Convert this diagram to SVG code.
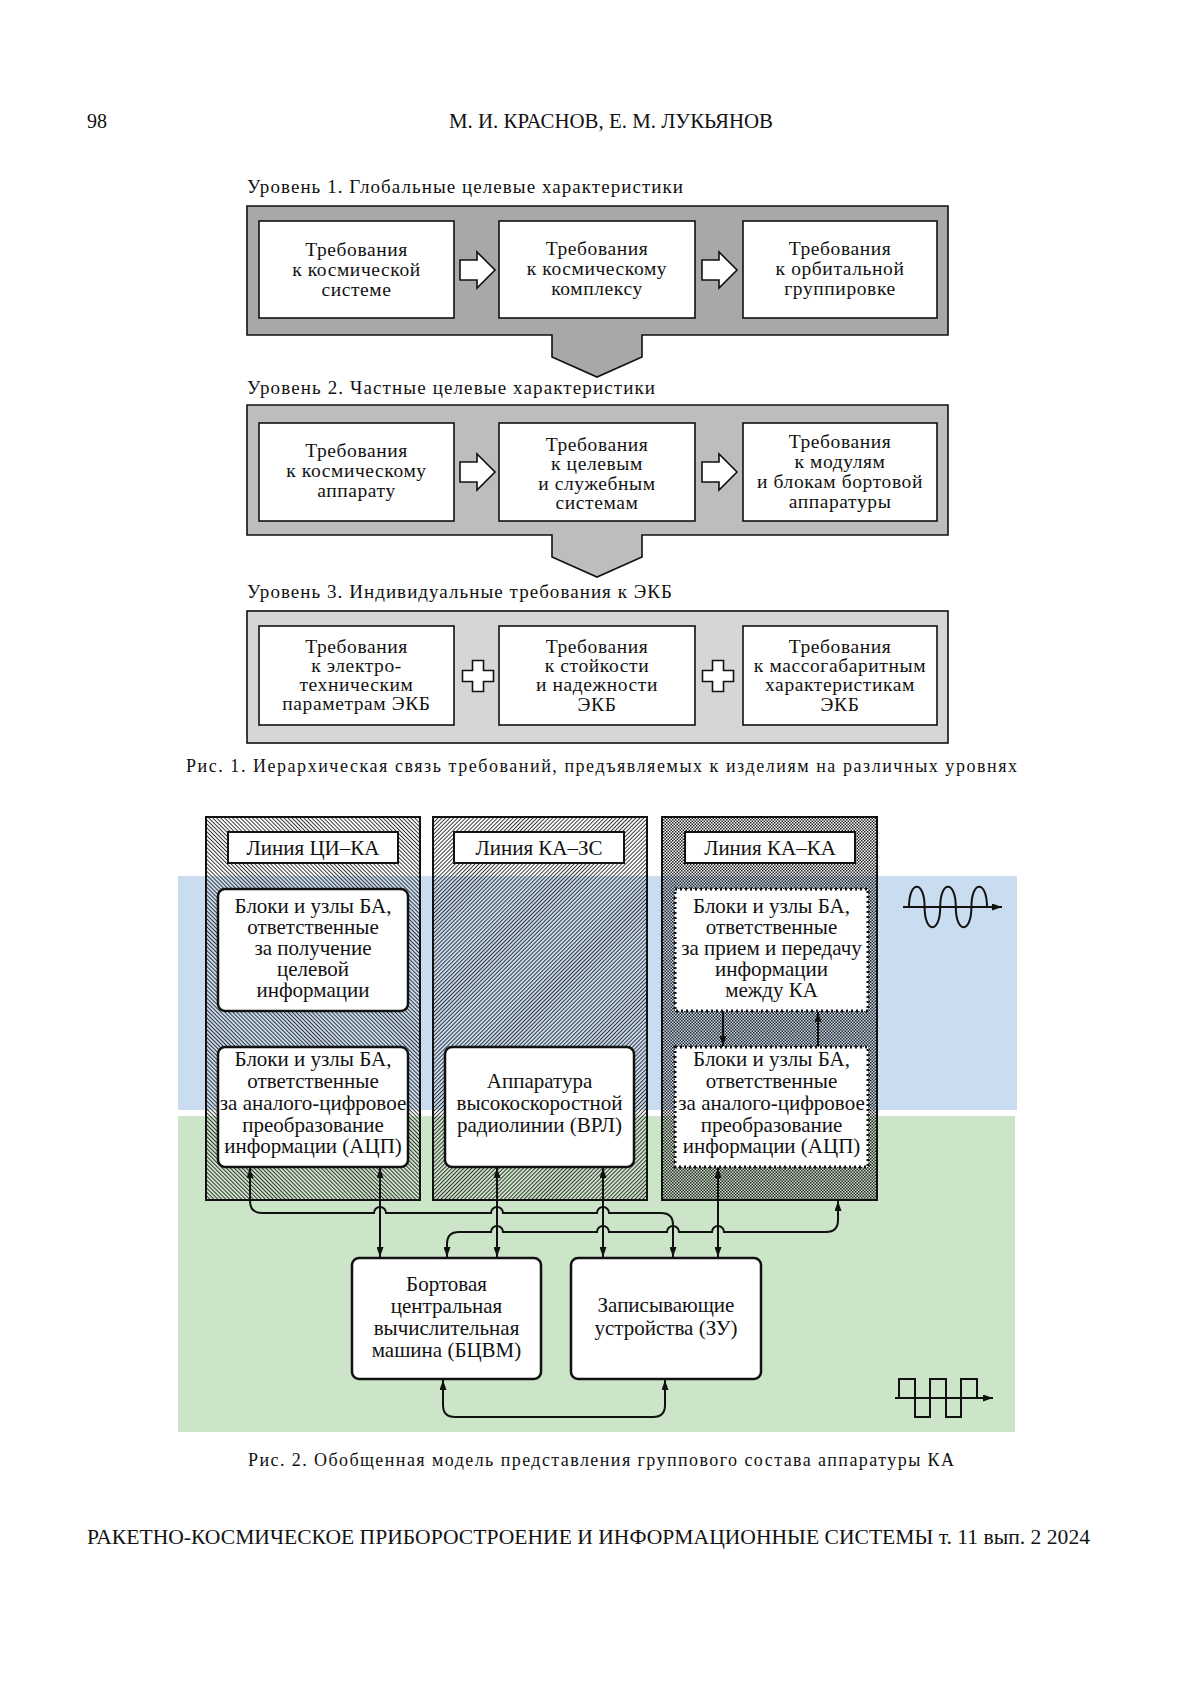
<svg xmlns="http://www.w3.org/2000/svg" width="1200" height="1697" viewBox="0 0 1200 1697">
<defs>
<style>
.t{font-family:"Liberation Serif","DejaVu Serif",serif;fill:#111}
.f1{font-size:19.5px;text-anchor:middle;letter-spacing:0.6px}
.f2{font-size:21px;text-anchor:middle}
.wb{fill:#fff;stroke:#111;stroke-width:1.6}
.lb{fill:#fff;stroke:#111;stroke-width:2}
.nb{fill:#fff;stroke:#111;stroke-width:2.5}
.db{fill:#fff;stroke:#111;stroke-width:3;stroke-dasharray:2 3}
.col{stroke:#111;stroke-width:2}
.cn{fill:none;stroke:#111;stroke-width:2}
.blk{fill:#fff;stroke:#111;stroke-width:1.6}
</style>
<pattern id="hBack" width="2.8" height="2.8" patternUnits="userSpaceOnUse" patternTransform="rotate(-45)">
<line x1="0.5" y1="0" x2="0.5" y2="2.8" stroke="#222" stroke-width="0.9"/>
</pattern>
<pattern id="hFwd" width="2.8" height="2.8" patternUnits="userSpaceOnUse" patternTransform="rotate(45)">
<line x1="0.5" y1="0" x2="0.5" y2="2.8" stroke="#222" stroke-width="0.9"/>
</pattern>
<pattern id="hCross" width="3" height="3" patternUnits="userSpaceOnUse">
<rect x="0" y="0" width="1.5" height="1.5" fill="#222"/>
<rect x="1.5" y="1.5" width="1.5" height="1.5" fill="#222"/>
</pattern>
<marker id="ar" viewBox="0 0 10 7" refX="10" refY="3.5" markerWidth="10" markerHeight="7" markerUnits="userSpaceOnUse" orient="auto-start-reverse">
<path d="M0,0 L10,3.5 L0,7 z" fill="#111"/>
</marker>
<path id="barrow" d="M0,-10 H17 V-18 L35,0 L17,18 V10 H0 Z"/>
<path id="plus" d="M-5.5,-15.5 H5.5 V-5.5 H15.5 V5.5 H5.5 V15.5 H-5.5 V5.5 H-15.5 V-5.5 H-5.5 Z"/>
</defs>
<rect width="1200" height="1697" fill="#fff"/>

<!-- page header -->
<text class="t" x="87" y="128" font-size="20">98</text>
<text class="t" x="611" y="128" font-size="20" text-anchor="middle" textLength="324" lengthAdjust="spacingAndGlyphs">М. И. КРАСНОВ, Е. М. ЛУКЬЯНОВ</text>

<!-- Figure 1 -->
<text class="t" x="247" y="193" font-size="19" textLength="436" lengthAdjust="spacing">Уровень 1. Глобальные целевые характеристики</text>
<g id="level1">
<polygon points="247,206 948,206 948,335 642,335 642,357 597,377 552,357 552,335 247,335" fill="#a7a8aa" stroke="#111" stroke-width="1.6"/>
</g>
<g id="l1b1"><rect class="wb" x="259" y="221" width="195" height="97"/>
<text class="t f1"><tspan x="356.5" y="256">Требования</tspan><tspan x="356.5" y="276">к космической</tspan><tspan x="356.5" y="296">системе</tspan></text></g>
<g id="l1b2"><rect class="wb" x="499" y="221" width="196" height="97"/>
<text class="t f1"><tspan x="597" y="255">Требования</tspan><tspan x="597" y="275">к космическому</tspan><tspan x="597" y="295">комплексу</tspan></text></g>
<g id="l1b3"><rect class="wb" x="743" y="221" width="194" height="97"/>
<text class="t f1"><tspan x="840" y="255">Требования</tspan><tspan x="840" y="275">к орбитальной</tspan><tspan x="840" y="295">группировке</tspan></text></g>

<text class="t" x="247" y="394" font-size="19" textLength="408" lengthAdjust="spacing">Уровень 2. Частные целевые характеристики</text>
<g id="level2">
<polygon points="247,405 948,405 948,535 642,535 642,557 597,577 552,557 552,535 247,535" fill="#bcbdbf" stroke="#111" stroke-width="1.6"/>
</g>
<g id="l2b1"><rect class="wb" x="259" y="423" width="195" height="98"/>
<text class="t f1"><tspan x="356.5" y="457">Требования</tspan><tspan x="356.5" y="477">к космическому</tspan><tspan x="356.5" y="497">аппарату</tspan></text></g>
<g id="l2b2"><rect class="wb" x="499" y="423" width="196" height="98"/>
<text class="t f1"><tspan x="597" y="451">Требования</tspan><tspan x="597" y="470">к целевым</tspan><tspan x="597" y="489.5">и служебным</tspan><tspan x="597" y="508.5">системам</tspan></text></g>
<g id="l2b3"><rect class="wb" x="743" y="423" width="194" height="98"/>
<text class="t f1"><tspan x="840" y="448">Требования</tspan><tspan x="840" y="468">к модулям</tspan><tspan x="840" y="488">и блокам бортовой</tspan><tspan x="840" y="508">аппаратуры</tspan></text></g>

<text class="t" x="247" y="598" font-size="19" textLength="425" lengthAdjust="spacing">Уровень 3. Индивидуальные требования к ЭКБ</text>
<g id="level3">
<rect x="247" y="611" width="701" height="132" fill="#d5d6d8" stroke="#111" stroke-width="1.6"/>
</g>
<g id="l3b1"><rect class="wb" x="259" y="626" width="195" height="99"/>
<text class="t f1"><tspan x="356.5" y="653">Требования</tspan><tspan x="356.5" y="672">к электро-</tspan><tspan x="356.5" y="691">техническим</tspan><tspan x="356.5" y="710">параметрам  ЭКБ</tspan></text></g>
<g id="l3b2"><rect class="wb" x="499" y="626" width="196" height="99"/>
<text class="t f1"><tspan x="597" y="653">Требования</tspan><tspan x="597" y="672">к стойкости</tspan><tspan x="597" y="691">и надежности</tspan><tspan x="597" y="711">ЭКБ</tspan></text></g>
<g id="l3b3"><rect class="wb" x="743" y="626" width="194" height="99"/>
<text class="t f1"><tspan x="840" y="653">Требования</tspan><tspan x="840" y="672">к массогабаритным</tspan><tspan x="840" y="691">характеристикам</tspan><tspan x="840" y="711">ЭКБ</tspan></text></g>

<g id="fig1-connectors">
<use href="#barrow" class="blk" x="460" y="270"/>
<use href="#barrow" class="blk" x="702" y="270"/>
<use href="#barrow" class="blk" x="460" y="472"/>
<use href="#barrow" class="blk" x="702" y="472"/>
<use href="#plus" class="blk" x="478" y="676"/>
<use href="#plus" class="blk" x="718" y="676"/>
</g>

<text class="t" x="186" y="772" font-size="18" textLength="831" lengthAdjust="spacing">Рис. 1. Иерархическая связь требований, предъявляемых к изделиям на различных уровнях</text>

<!-- Figure 2 -->
<rect x="178" y="876" width="839" height="234" fill="#c9dcf0"/>
<rect x="178" y="1116" width="837" height="316" fill="#cce4c8"/>

<g id="col1"><rect x="206" y="817" width="214" height="383" fill="url(#hBack)" class="col"/>
<rect class="lb" x="228" y="832" width="170" height="31"/>
<text class="t f2" font-size="20" x="313" y="855">Линия ЦИ–КА</text></g>
<g id="col2"><rect x="433" y="817" width="214" height="383" fill="url(#hFwd)" class="col"/>
<rect class="lb" x="454" y="832" width="170" height="31"/>
<text class="t f2" x="539" y="855">Линия КА–ЗС</text></g>
<g id="col3"><rect x="662" y="817" width="215" height="383" fill="url(#hCross)" class="col"/>
<rect class="lb" x="685" y="832" width="170" height="31"/>
<text class="t f2" x="770" y="855">Линия КА–КА</text></g>

<g id="c1top"><rect class="nb" x="218" y="889" width="190" height="122" rx="7"/>
<text class="t f2"><tspan x="313" y="913">Блоки и узлы  БА,</tspan><tspan x="313" y="934">ответственные</tspan><tspan x="313" y="955">за получение</tspan><tspan x="313" y="976">целевой</tspan><tspan x="313" y="997">информации</tspan></text></g>
<g id="c1acp"><rect class="nb" x="218" y="1047" width="190" height="120" rx="7"/>
<text class="t f2"><tspan x="313" y="1066">Блоки и узлы  БА,</tspan><tspan x="313" y="1088">ответственные</tspan><tspan x="313" y="1110">за аналого-цифровое</tspan><tspan x="313" y="1132">преобразование</tspan><tspan x="313" y="1153">информации (АЦП)</tspan></text></g>
<g id="c2vrl"><rect class="nb" x="445" y="1047" width="189" height="120" rx="7"/>
<text class="t f2"><tspan x="539.5" y="1088">Аппаратура</tspan><tspan x="539.5" y="1110">высокоскоростной</tspan><tspan x="539.5" y="1132">радиолинии (ВРЛ)</tspan></text></g>
<g id="c3top"><rect class="db" x="675" y="889" width="193" height="122"/>
<text class="t f2"><tspan x="771.5" y="913">Блоки и узлы  БА,</tspan><tspan x="771.5" y="934">ответственные</tspan><tspan x="771.5" y="955">за прием  и передачу</tspan><tspan x="771.5" y="976">информации</tspan><tspan x="771.5" y="997">между КА</tspan></text></g>
<g id="c3acp"><rect class="db" x="675" y="1047" width="193" height="120"/>
<text class="t f2"><tspan x="771.5" y="1066">Блоки и узлы  БА,</tspan><tspan x="771.5" y="1088">ответственные</tspan><tspan x="771.5" y="1110">за аналого-цифровое</tspan><tspan x="771.5" y="1132">преобразование</tspan><tspan x="771.5" y="1153">информации (АЦП)</tspan></text></g>

<g id="bcvm"><rect class="nb" x="352" y="1258" width="189" height="121" rx="7"/>
<text class="t f2"><tspan x="446.5" y="1291">Бортовая</tspan><tspan x="446.5" y="1313">центральная</tspan><tspan x="446.5" y="1335">вычислительная</tspan><tspan x="446.5" y="1357">машина (БЦВМ)</tspan></text></g>
<g id="zu"><rect class="nb" x="571" y="1258" width="190" height="121" rx="7"/>
<text class="t f2"><tspan x="666" y="1312">Записывающие</tspan><tspan x="666" y="1335">устройства (ЗУ)</tspan></text></g>

<g id="fig2-connectors">
<path class="cn" d="M723,1012 V1046" marker-end="url(#ar)"/>
<path class="cn" d="M818,1046 V1012" marker-end="url(#ar)"/>
<path class="cn" d="M380,1168 V1257" marker-start="url(#ar)" marker-end="url(#ar)"/>
<path class="cn" d="M497,1168 V1257" marker-start="url(#ar)" marker-end="url(#ar)"/>
<path class="cn" d="M603,1168 V1257" marker-start="url(#ar)" marker-end="url(#ar)"/>
<path class="cn" d="M718,1168 V1257" marker-start="url(#ar)" marker-end="url(#ar)"/>
<path class="cn" d="M250,1168 V1201 Q250,1213 262,1213 H374 A6,6 0 0 1 386,1213 H491 A6,6 0 0 1 503,1213 H597 A6,6 0 0 1 609,1213 H661 Q673,1213 673,1225 V1257" marker-start="url(#ar)" marker-end="url(#ar)"/>
<path class="cn" d="M447,1257 V1244 Q447,1232 459,1232 H491 A6,6 0 0 1 503,1232 H597 A6,6 0 0 1 609,1232 H667 A6,6 0 0 1 679,1232 H712 A6,6 0 0 1 724,1232 H826 Q838,1232 838,1220 V1201" marker-start="url(#ar)" marker-end="url(#ar)"/>
<path class="cn" d="M443,1380 V1405 Q443,1417 455,1417 H653 Q665,1417 665,1405 V1380" marker-start="url(#ar)" marker-end="url(#ar)"/>
</g>

<g id="sine">
<path class="cn" d="M903,907 H1002" marker-end="url(#ar)"/>
<path class="cn" d="M909,907 c0,-27 15.6,-27 15.6,0 c0,27 15.6,27 15.6,0 c0,-27 15.6,-27 15.6,0 c0,27 15.6,27 15.6,0 c0,-27 15.6,-27 15.6,0"/>
</g>
<g id="square">
<path class="cn" d="M895,1398 H993" marker-end="url(#ar)"/>
<path class="cn" d="M899,1398 V1379 H915 V1417 H930 V1379 H946 V1417 H961 V1379 H977 V1398"/>
</g>

<text class="t" x="248" y="1466" font-size="18" textLength="706" lengthAdjust="spacing">Рис. 2. Обобщенная модель представления группового состава аппаратуры КА</text>

<text class="t" x="87" y="1544" font-size="20" textLength="1003" lengthAdjust="spacingAndGlyphs">РАКЕТНО-КОСМИЧЕСКОЕ ПРИБОРОСТРОЕНИЕ И ИНФОРМАЦИОННЫЕ СИСТЕМЫ т. 11 вып. 2 2024</text>
</svg>
